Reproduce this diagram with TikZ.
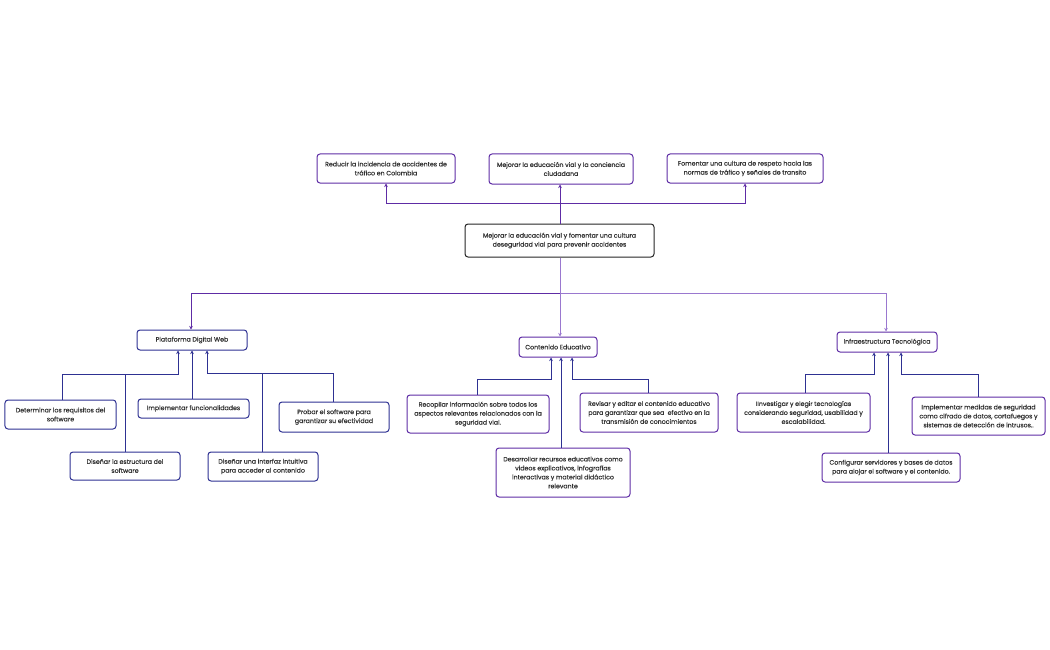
\documentclass[tikz,border=0pt]{standalone}
\usepackage{fontspec}
\setmainfont{Poppins}
\newfontfamily\boxfont{Poppins}[FakeBold=0.5]
\usetikzlibrary{arrows.meta,calc}
\definecolor{purp}{HTML}{5E2CA5}
\definecolor{lpurp}{HTML}{9A78CF}
\definecolor{navy}{HTML}{2E3192}
\definecolor{txt}{HTML}{333333}
\tikzset{
  box/.style={draw=#1, line width=1bp, rounded corners=3bp, fill=white, align=center,
    inner sep=0pt, text=txt, font=\boxfont\fontsize{6.3}{9}\selectfont},
  conn/.style={draw=#1, line width=1bp},
  arr/.style={-{Stealth[length=3.5bp,width=3.5bp]}}
}
\begin{document}
\begin{tikzpicture}[x=1bp,y=-1bp]
\useasboundingbox (0,0) rectangle (1050,650);
% top level
\node[box=purp, minimum width=138bp, minimum height=29bp] (A) at (386,168.5) {Reducir la incidencia de accidentes de\\tráfico en Colombia};
\node[box=purp, minimum width=144bp, minimum height=30bp] (B) at (561,169) {Mejorar la educación vial y la conciencia\\ciudadana};
\node[box=purp, minimum width=156bp, minimum height=29bp] (C) at (745,168.5) {Fomentar una cultura de respeto hacia las\\normas de tráfico y señales de transito};
\node[box=black!85, minimum width=189bp, minimum height=33bp] (M) at (559.5,240.5) {Mejorar la educación vial y fomentar una cultura\\deseguridad vial para prevenir accidentes};
% second level
\node[box=navy, minimum width=110bp, minimum height=20bp] (P) at (192,340) {Plataforma Digital Web};
\node[box=purp, minimum width=78bp, minimum height=20bp] (E) at (558,347) {Contenido Educativo};
\node[box=purp, minimum width=100bp, minimum height=20bp] (I) at (887,342) {Infraestructura Tecnológica};
% Plataforma children
\node[box=navy, minimum width=111bp, minimum height=29bp] (p1) at (60.5,414.5) {Determinar los requisitos del\\software};
\node[box=navy, minimum width=110bp, minimum height=28bp] (p2) at (125,466) {Diseñar la estructura del\\software};
\node[box=navy, minimum width=111bp, minimum height=19bp] (p3) at (193.5,408.5) {Implementar funcionalidades};
\node[box=navy, minimum width=110bp, minimum height=29bp] (p4) at (263,466.5) {Diseñar una interfaz intuitiva\\para acceder al contenido};
\node[box=navy, minimum width=110bp, minimum height=30bp] (p5) at (334,417) {Probar el software para\\garantizar su efectividad};
% Contenido children
\node[box=purp, minimum width=142bp, minimum height=38bp] (e1) at (478,414) {Recopilar información sobre todos los\\aspectos relevantes relacionados con la\\seguridad vial.};
\node[box=purp, minimum width=134bp, minimum height=49bp] (e2) at (563,472.5) {Desarrollar recursos educativos como\\videos explicativos, infografías\\interactivas y material didáctico\\relevante};
\node[box=purp, minimum width=138bp, minimum height=39bp] (e3) at (649,412.5) {Revisar y editar el contenido educativo\\para garantizar que sea\ \ efectivo en la\\transmisión de conocimientos};
% Infra children
\node[box=purp, minimum width=133bp, minimum height=39bp] (i1) at (803.5,412.5) {IInvestigar y elegir tecnologías\\considerando seguridad, usabilidad y\\escalabilidad.};
\node[box=purp, minimum width=138bp, minimum height=29bp] (i2) at (891,467.5) {Configurar servidores y bases de datos\\para alojar el software y el contenido.};
\node[box=purp, minimum width=133bp, minimum height=38bp] (i3) at (978.5,416) {Implementar medidas de seguridad\\como cifrado de datos, cortafuegos y\\sistemas de detección de intrusos..};
% junction coordinates
\coordinate (jt) at (560,203);
\coordinate (jb) at (560,293);
\coordinate (pj1) at (178,374);
\coordinate (pj2) at (207,373);
\coordinate (ej1) at (551,379);
\coordinate (ej3) at (572,379);
\coordinate (ij1) at (874,374);
\coordinate (ij3) at (901,374);
% top connectors
\draw[conn=purp, arr] (M.north -| jt) -- (B.south -| jt);
\draw[conn=purp, arr] (jt) -| (A.south);
\draw[conn=purp, arr] (jt) -| (C.south);
% bottom connectors
\draw[conn=lpurp] (M.south -| jb) -- (jb);
\draw[conn=purp, arr] (jb) -| ($(P.north)+(-1,0)$);
\draw[conn=lpurp, arr] (jb) -- (E.north -| jb);
\draw[conn=lpurp, arr] (jb) -| ($(I.north)+(-1,0)$);
% Plataforma children connectors
\draw[conn=navy, arr] ($(p1.north)+(1.5,0)$) |- (pj1) -- (P.south -| pj1);
\draw[conn=navy] (p2.north) -- (p2.north |- pj1);
\draw[conn=navy, arr] ($(p3.north)+(-1.5,0)$) -- (P.south);
\draw[conn=navy, arr] ($(p4.north)+(-1,0)$) |- (pj2) -- (P.south -| pj2);
\draw[conn=navy] ($(p5.north)+(-1,0)$) |- (pj2);
% Contenido children connectors
\draw[conn=navy, arr] ($(e1.north)+(-1,0)$) |- (ej1) -- (E.south -| ej1);
\draw[conn=navy, arr] ($(e2.north)+(-2,0)$) -- ($(E.south)+(3,0)$);
\draw[conn=navy, arr] ($(e3.north)+(-1,0)$) |- (ej3) -- (E.south -| ej3);
% Infra children connectors
\draw[conn=navy, arr] ($(i1.north)+(1.5,0)$) |- (ij1) -- (I.south -| ij1);
\draw[conn=navy, arr] ($(i2.north)+(-3,0)$) -- ($(I.south)+(1,0)$);
\draw[conn=navy, arr] ($(i3.north)+(-0.5,0)$) |- (ij3) -- (I.south -| ij3);
\end{tikzpicture}
\end{document}
